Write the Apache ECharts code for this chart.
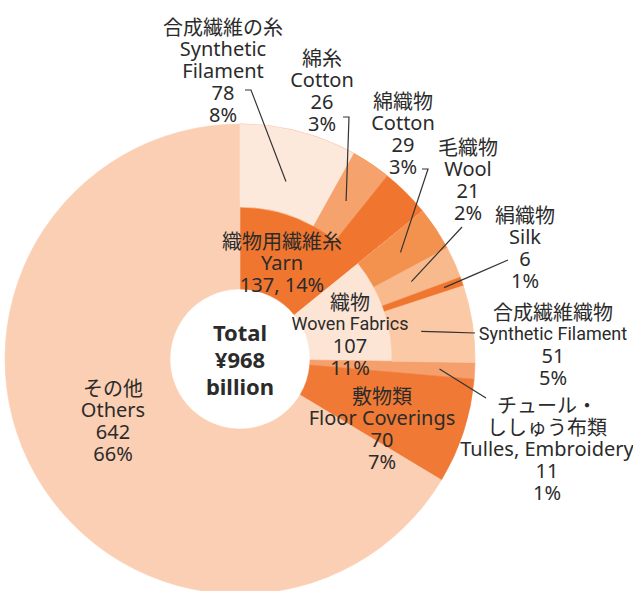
<!DOCTYPE html>
<html>
<head>
<meta charset="utf-8">
<title>繊維製品 輸入</title>
<script src="https://cdn.jsdelivr.net/npm/echarts@6/dist/echarts.min.js"></script>
<style>
  html, body { margin: 0; padding: 0; background: #fff; }
  #chart { width: 633px; height: 591px; }
</style>
</head>
<body>
<div id="chart"></div>
<script>
const TOTAL = 968;

// 内側: 大分類
const innerJp = ['織物用繊維糸', '織物', 'チュール・\nししゅう布類', '敷物類', 'その他'];
const innerEn = ['Yarn', 'Woven Fabrics', 'Tulles, Embroidery', 'Floor Coverings', 'Others'];
const innerValues = [137, 107, 11, 70, 642];

// 外側: 糸・織物の内訳 (糸の残り33は推定)
const outerJp = ['合成繊維の糸', '綿糸', 'その他の糸', '綿織物', '毛織物', '絹織物', '合成繊維織物', 'チュール・ししゅう布類', '敷物類', 'その他'];
const outerEn = ['Synthetic\nFilament', 'Cotton', 'Other Yarn', 'Cotton', 'Wool', 'Silk', 'Synthetic Filament', 'Tulles, Embroidery', 'Floor Coverings', 'Others'];
const outerValues = [78, 26, 33, 29, 21, 6, 51, 11, 70, 642];

// 見た目
const CX = 240, CY = 359, R0 = 70, R1 = 152, R2 = 235;
const innerColors = ['#f07630', '#fde5d6', '#f5a06c', '#f07a35', '#fbcfb3'];
const outerColors = ['#fde8dc', '#f6a26c', 'transparent', '#f3914f', '#f8b98c', '#f07630', '#fbc9a6', 'transparent', 'transparent', 'transparent'];

// ラベル中心と引き出し線の始点 (k = 扇形の中での線の終わり位置)
const innerSpots = [
  { x: 282, y: 262, inline: true },
  { x: 350, y: 334, narrow: true },
  { x: 547, y: 448, line: [[486, 398]], k: 0.85 },
  { x: 382, y: 428 },
  { x: 113, y: 420 }
];
const outerSpots = [
  { x: 223, y: 70, line: [[245, 90], [251, 90]], k: 0.78 },
  { x: 322, y: 90, line: [[343, 117], [349, 117]], k: 0.81 },
  null,
  { x: 403, y: 133, line: [[422, 169], [428, 169]], k: 0.82 },
  { x: 468, y: 179, line: [[462, 227]], k: 0.8 },
  { x: 525, y: 247, line: [[508, 260]], k: 0.92 },
  { x: 553, y: 344, line: [[475, 333]], k: 0.78, narrow: true },
  null, null, null
];

function labelText(jp, en, v, spot) {
  const lines = [];
  jp.split('\n').forEach(s => lines.push('{jp|' + s + '}'));
  en.split('\n').forEach(s => lines.push('{' + (spot.narrow ? 'nar' : 'en') + '|' + s + '}'));
  const pct = Math.round(v / TOTAL * 100) + '%';
  if (spot.inline) {
    lines.push('{en|' + v + ', ' + pct + '}');
  } else {
    lines.push('{en|' + v + '}');
    lines.push('{en|' + pct + '}');
  }
  return lines.join('\n');
}

// colored: 塗りのみ / それ以外: 透明な扇形にラベルだけ載せる
function buildData(jp, en, values, colors, spots, colored) {
  return values.map((v, i) => {
    const spot = spots[i];
    const c = colors[i];
    const item = { name: en[i].replace('\n', ' '), value: v };
    if (colored) {
      item.itemStyle = c === 'transparent'
        ? { color: c, borderWidth: 0 }
        : { color: c, borderColor: c, borderWidth: 0.6 };
      item.label = { show: false };
      item.labelLine = { show: false };
    } else {
      item.itemStyle = { color: 'transparent', borderWidth: 0 };
      item.label = spot
        ? { show: true, position: spot.line ? 'outside' : 'inside', formatter: labelText(jp[i], en[i], v, spot) }
        : { show: false };
      item.labelLine = { show: !!(spot && spot.line) };
    }
    return item;
  });
}

function layoutFor(spots) {
  return function (params) {
    const spot = spots[params.dataIndex];
    if (!spot) return {};
    const out = { x: spot.x, y: spot.y, align: 'center', verticalAlign: 'middle' };
    if (spot.line && params.labelLinePoints) {
      // 扇形の外周の点 (中央角) から内側へ
      const p = params.labelLinePoints[0];
      const end = [CX + (p[0] - CX) * spot.k, CY + (p[1] - CY) * spot.k];
      const pts = spot.line.slice();
      if (pts.length < 2) {
        pts.push([(pts[0][0] + end[0]) / 2, (pts[0][1] + end[1]) / 2]);
      }
      pts.push(end);
      out.labelLinePoints = pts;
    }
    return out;
  };
}

const rich = {
  jp: { fontFamily: 'Noto Sans CJK JP', fontSize: 20, lineHeight: 22, color: '#2b2b2b' },
  en: { fontFamily: 'Noto Sans', fontSize: 20, lineHeight: 22, color: '#2b2b2b' },
  nar: { fontFamily: 'Roboto', fontSize: 18, lineHeight: 22, color: '#2b2b2b' }
};

const seriesBase = {
  type: 'pie',
  center: [CX, CY],
  startAngle: 90,
  clockwise: true,
  avoidLabelOverlap: false,
  silent: true,
  animation: false,
  label: { color: '#2b2b2b', align: 'center', rich: rich },
  labelLine: { showAbove: true, lineStyle: { color: '#333', width: 1.2 } }
};

function ring(name, radius, jp, en, values, colors, spots, colored) {
  return Object.assign({}, seriesBase, {
    name: name,
    radius: radius,
    z: colored ? 2 : 4,
    data: buildData(jp, en, values, colors, spots, colored),
    labelLayout: colored ? null : layoutFor(spots)
  });
}

const chart = echarts.init(document.getElementById('chart'), null, { renderer: 'svg' });
chart.setOption({
  backgroundColor: '#fff',
  animation: false,
  series: [
    ring('inner', [R0, R2], innerJp, innerEn, innerValues, innerColors, innerSpots, true),
    ring('outer', [R1, R2], outerJp, outerEn, outerValues, outerColors, outerSpots, true),
    ring('innerLabels', [R0, R2], innerJp, innerEn, innerValues, innerColors, innerSpots, false),
    ring('outerLabels', [R1, R2], outerJp, outerEn, outerValues, outerColors, outerSpots, false)
  ],
  graphic: [{
    type: 'text',
    x: CX,
    y: CY,
    z: 10,
    style: {
      text: 'Total\n¥' + TOTAL + '\nbillion',
      align: 'center',
      verticalAlign: 'middle',
      fontFamily: 'Noto Sans',
      fontWeight: 'bold',
      fontSize: 22,
      lineHeight: 27,
      fill: '#2b2b2b'
    }
  }]
});
</script>
</body>
</html>
